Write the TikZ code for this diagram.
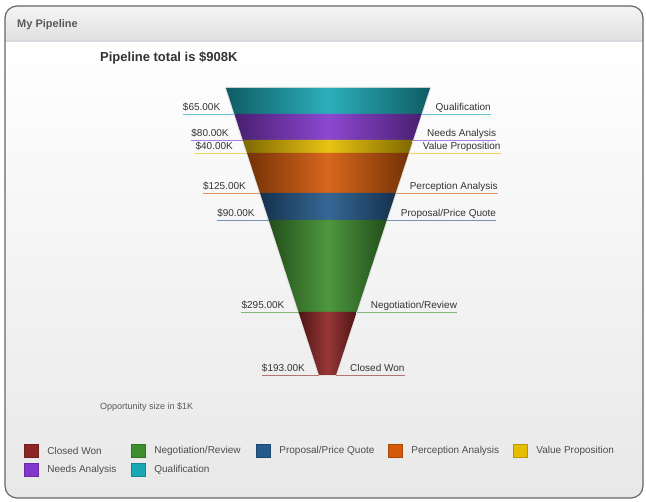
\documentclass[tikz,border=0pt]{standalone}
\usepackage{fontspec}
\setmainfont{Liberation Sans}
\usetikzlibrary{positioning}

\definecolor{cWon}{HTML}{8E2525}
\definecolor{cNego}{HTML}{3E8E2E}
\definecolor{cProp}{HTML}{245A8C}
\definecolor{cPercep}{HTML}{D45A0A}
\definecolor{cValue}{HTML}{E6BE00}
\definecolor{cNeeds}{HTML}{8338CC}
\definecolor{cQual}{HTML}{1AA8B6}
\definecolor{txt}{HTML}{333333}

\tikzset{
  vallabel/.style={inner xsep=0pt, inner ysep=0.5pt, text height=7.5pt, text depth=2.5pt,
    font=\fontsize{10}{12}\selectfont, text=txt},
  namelabel/.style={vallabel},
  leader/.style={line width=0.8pt},
  legsq/.style={minimum width=14pt, minimum height=13pt, inner sep=0pt},
  legtext/.style={inner xsep=0pt, font=\fontsize{10}{12}\selectfont, text=black!70},
}

\begin{document}
\begin{tikzpicture}[x=1pt,y=-1pt]
  \useasboundingbox (0,0) rectangle (646,502);
  \fill[white] (0,0) rectangle (646,502);
  % panel
  \begin{scope}
    \clip[rounded corners=12pt] (5,6) rectangle (643,498);
    \shade[top color=white, bottom color=black!9] (5,41) rectangle (643,498);
    \shade[top color=black!4, bottom color=black!12] (5,6) rectangle (643,41);
    \draw[blue!20!black!15, line width=1.5pt] (5,41) -- (643,41);
  \end{scope}
  \draw[rounded corners=12pt, black!60, line width=1.2pt] (5,6) rectangle (643,498);
  \node[anchor=west, inner sep=0pt, font=\fontsize{11}{13}\bfseries, text=black!65] (head) at (17,25) {My Pipeline};
  \node[anchor=west, inner sep=0pt, font=\fontsize{13}{15}\bfseries, text=black!80] (title) at (100,58) {Pipeline total is \$908K};

  % funnel
  \draw[black!12, line width=2pt, line join=round] (226,88) -- (430,88) -- (336,375) -- (319,375) -- cycle;
  \foreach \i/\name/\v/\yt/\yb/\col in {1/Qualification/65.00/88/114/cQual, 2/Needs Analysis/80.00/114/140/cNeeds,
      3/Value Proposition/40.00/140/153/cValue, 4/Perception Analysis/125.00/153/193/cPercep,
      5/{Proposal/Price Quote}/90.00/193/220/cProp, 6/{Negotiation/Review}/295.00/220/312/cNego,
      7/Closed Won/193.00/312/375/cWon}{
    \pgfmathsetmacro{\xlt}{226+(\yt-88)/287*93}
    \pgfmathsetmacro{\xrt}{430-(\yt-88)/287*94}
    \pgfmathsetmacro{\xlb}{226+(\yb-88)/287*93}
    \pgfmathsetmacro{\xrb}{430-(\yb-88)/287*94}
    \coordinate (el\i) at (\xlb,\yb);
    \coordinate (er\i) at (\xrb,\yb);
    \node[vallabel, anchor=south east, xshift=-14pt] (v\i) at (el\i) {\$\v K};
    \node[namelabel, anchor=south west, xshift=14pt] (n\i) at (er\i) {\name};
    \draw[leader, draw=\col!65] (v\i.south west) -- (el\i);
    \draw[leader, draw=\col!65] (er\i) -- (n\i.south east);
    \shade[left color=\col!55!black, right color=\col!55!black, middle color=\col!92!white]
      (\xlt,\yt) -- (\xrt,\yt) -- (\xrb,\yb) -- (\xlb,\yb) -- cycle;
  }

  \node[anchor=west, inner sep=0pt, font=\fontsize{9}{11}\selectfont, text=black!65] (axis) at (100,407) {Opportunity size in \$1K};

  % legend
  \foreach \i/\name/\col/\x/\y in {1/Closed Won/cWon/24/450.5, 2/{Negotiation/Review}/cNego/131/450.5,
      3/{Proposal/Price Quote}/cProp/256/450.5, 4/Perception Analysis/cPercep/388/450.5,
      5/Value Proposition/cValue/513/450.5, 6/Needs Analysis/cNeeds/24/469.5, 7/Qualification/cQual/131/469.5}{
    \node[legsq, fill=\col, draw=\col!80!black, line width=0.4pt] (sq\i) at (\x+7,\y) {};
    \node[legtext, right=9pt of sq\i] (lg\i) {\name};
  }
\end{tikzpicture}
\end{document}
